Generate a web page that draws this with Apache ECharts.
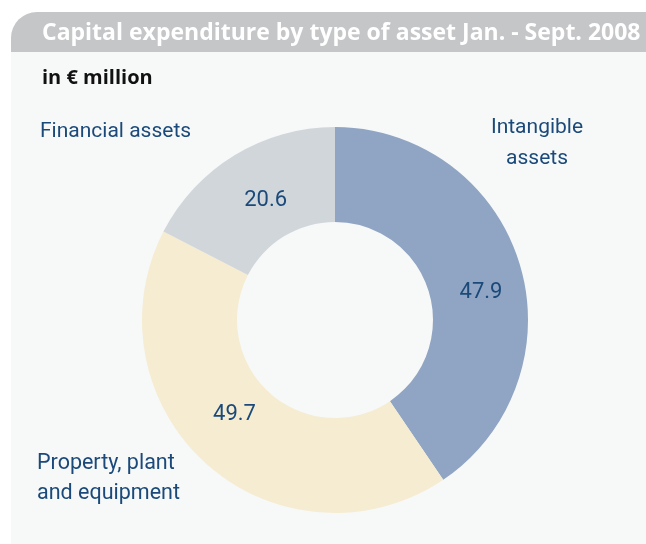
<!DOCTYPE html>
<html>
<head>
<meta charset="utf-8">
<script src="https://cdn.jsdelivr.net/npm/echarts@6/dist/echarts.min.js"></script>
<style>
  html, body { margin: 0; padding: 0; background: #ffffff; }
  #main { width: 646px; height: 544px; }
</style>
</head>
<body>
<div id="main"></div>
<script>
// data
var categories = ['Intangible assets', 'Property, plant and equipment', 'Financial assets'];
var categoryLabels = ['Intangible\nassets', 'Property, plant\nand equipment', 'Financial assets'];
var values = [47.9, 49.7, 20.6];

var sliceColors = ['#8fa5c3', '#f5ecd1', '#d1d6db'];
var textBlue = '#1b4a7a';
// small nudges of value labels from the ring middle
var valueNudge = [[4, 16], [-2, -17], [8, 7]];

var myChart = echarts.init(document.getElementById('main'));

var pieData = categories.map(function (c, i) {
    return { name: c, value: values[i], itemStyle: { color: sliceColors[i] } };
});

var option = {
    backgroundColor: '#ffffff',
    animation: false,
    graphic: [
        {
            type: 'rect', z: 0,
            shape: { x: 11, y: 52, width: 640, height: 500 },
            style: { fill: '#f7f8f8' }
        },
        {
            type: 'rect', z: 0,
            shape: { x: 11, y: 12, width: 640, height: 40, r: [26, 0, 0, 0] },
            style: { fill: '#c4c6c8' }
        },
        {
            type: 'text', z: 2, x: 42, y: 33,
            style: {
                text: 'Capital expenditure by type of asset Jan. - Sept. 2008',
                fill: '#ffffff', font: 'bold 23px "Open Sans"',
                verticalAlign: 'middle'
            }
        },
        {
            type: 'text', z: 2, x: 42, y: 78,
            style: {
                text: 'in € million', fill: '#111111', font: 'bold 20px "Open Sans"',
                verticalAlign: 'middle'
            }
        },
        {
            type: 'text', z: 2, x: 40, y: 132,
            style: {
                text: categoryLabels[2], fill: textBlue, font: '21px Roboto',
                verticalAlign: 'middle'
            }
        },
        {
            type: 'text', z: 2, x: 537, y: 143,
            style: {
                text: categoryLabels[0], fill: textBlue, font: '21px Roboto',
                align: 'center', verticalAlign: 'middle', lineHeight: 31
            }
        },
        {
            type: 'text', z: 2, x: 37, y: 479,
            style: {
                text: categoryLabels[1], fill: textBlue, font: '21.5px Roboto',
                verticalAlign: 'middle', lineHeight: 30
            }
        }
    ],
    series: [
        {
            type: 'pie',
            center: [335, 320],
            radius: [98, 193],
            startAngle: 90,
            clockwise: true,
            z: 3,
            silent: true,
            itemStyle: { borderWidth: 0 },
            label: {
                show: true,
                position: 'inside',
                color: textBlue,
                fontSize: 22,
                fontFamily: 'Roboto',
                formatter: function (p) { return p.value.toFixed(1); }
            },
            labelLayout: function (p) {
                var n = valueNudge[p.dataIndex];
                return { dx: n[0], dy: n[1] };
            },
            labelLine: { show: false },
            data: pieData
        }
    ]
};

myChart.setOption(option);
</script>
</body>
</html>
